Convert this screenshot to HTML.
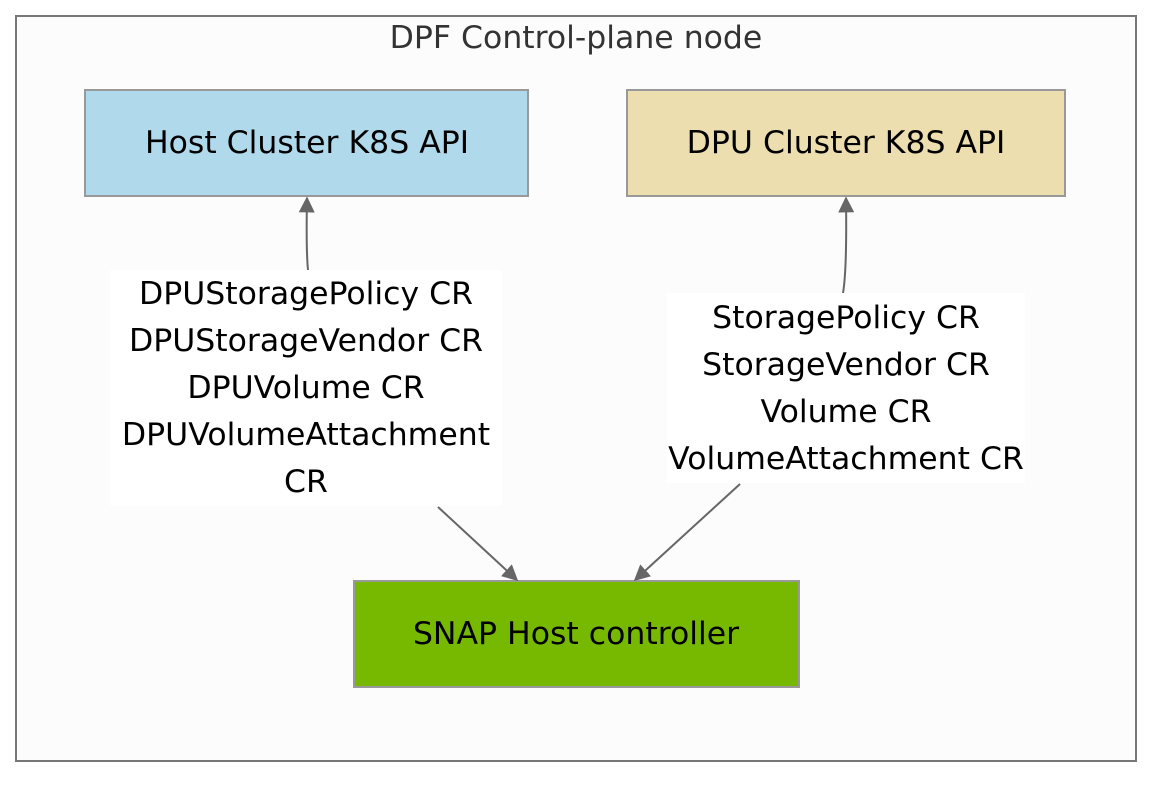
<!DOCTYPE html>
<html><head><meta charset="utf-8"><style>
html,body{margin:0;padding:0;background:#fff;}
svg{display:block;font-family:"DejaVu Sans","Liberation Sans",sans-serif;}
</style></head><body>
<svg width="1168" height="788" viewBox="0 0 1168 788" xmlns="http://www.w3.org/2000/svg">
<defs>
<marker id="b" viewBox="0 0 10 10" markerWidth="16" markerHeight="16" refX="9" refY="5" orient="auto" markerUnits="userSpaceOnUse"><path d="M0,0 L10,5 L0,10 z" fill="#666"/></marker></defs>
<rect x="16" y="16" width="1120" height="745" fill="#fcfcfc" stroke="#777" stroke-width="2"/>
<text x="576" y="48" font-size="31.5" fill="#333" text-anchor="middle">DPF Control-plane node</text>
<rect x="85" y="90" width="443" height="106" fill="#b0d9ec" stroke="#999" stroke-width="2"/>
<text x="307" y="153" font-size="31.5" text-anchor="middle">Host Cluster K8S API</text>
<rect x="627" y="90" width="438" height="106" fill="#ecdeae" stroke="#999" stroke-width="2"/>
<text x="846" y="153" font-size="31.5" text-anchor="middle">DPU Cluster K8S API</text>
<rect x="354" y="581" width="445" height="106" fill="#76b900" stroke="#999" stroke-width="2"/>
<text x="576" y="644" font-size="31.5" text-anchor="middle">SNAP Host controller</text>
<g stroke="#666" stroke-width="2" fill="none">
<path d="M308,270 Q306,250 307,198" marker-end="url(#b)"/>
<path d="M843,293 Q847,270 846,198" marker-end="url(#b)"/>
<path d="M438,507 L517,580" marker-end="url(#b)"/>
<path d="M740,484 L635,580" marker-end="url(#b)"/>
</g>
<rect x="110" y="270" width="392" height="236" fill="#fff"/>
<g font-size="31.5" text-anchor="middle" fill="#000">
<text x="306" y="304">DPUStoragePolicy CR</text>
<text x="306" y="351">DPUStorageVendor CR</text>
<text x="306" y="398">DPUVolume CR</text>
<text x="306" y="445">DPUVolumeAttachment</text>
<text x="306" y="492">CR</text>
</g>
<rect x="667" y="293" width="358" height="190" fill="#fff"/>
<g font-size="31.5" text-anchor="middle" fill="#000">
<text x="846" y="328">StoragePolicy CR</text>
<text x="846" y="375">StorageVendor CR</text>
<text x="846" y="422">Volume CR</text>
<text x="846" y="469">VolumeAttachment CR</text>
</g>
</svg>
</body></html>
